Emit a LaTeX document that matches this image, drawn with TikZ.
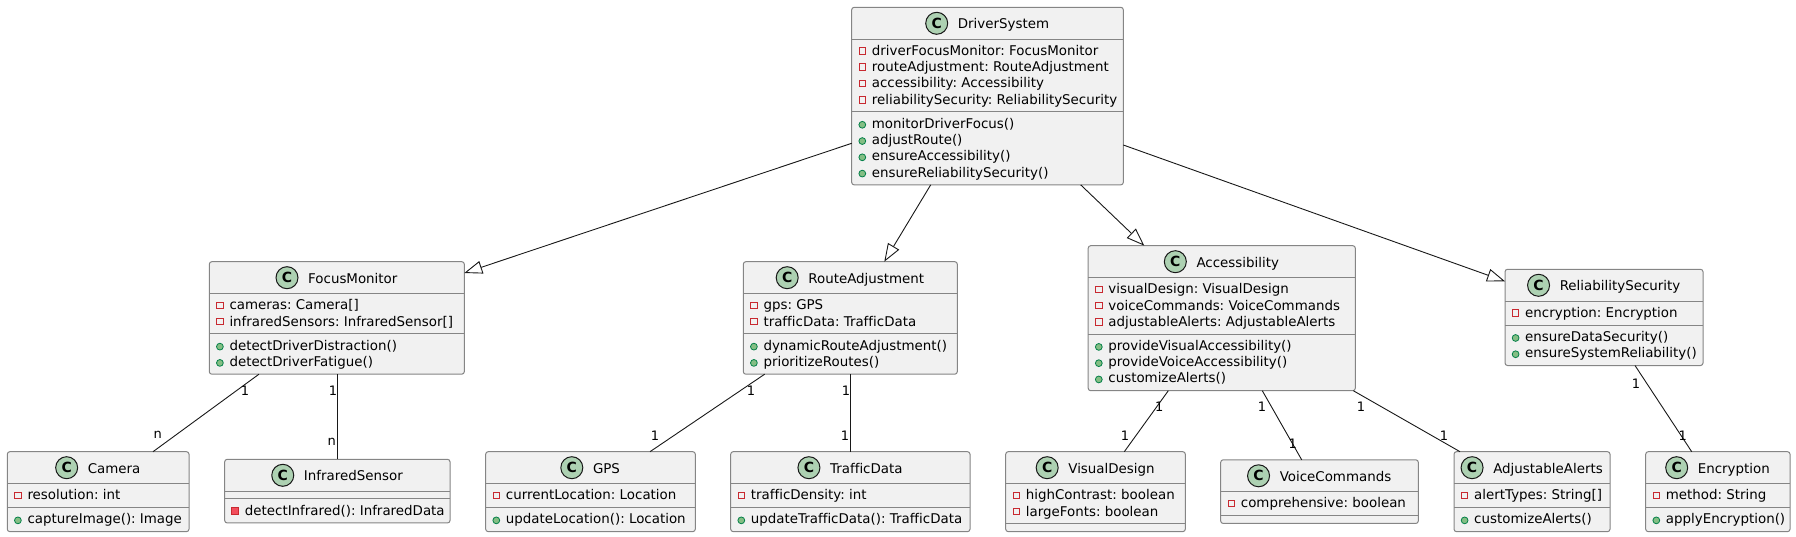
\documentclass[tikz,border=0pt]{standalone}
\usepackage{fontspec}
\setmainfont{DejaVu Sans}[Ligatures=NoCommon]
\usetikzlibrary{calc,arrows.meta}
\definecolor{boxfill}{HTML}{F1F1F1}
\definecolor{bordc}{HTML}{858585}
\definecolor{linec}{HTML}{181818}
\definecolor{privc}{HTML}{C82930}
\definecolor{privfill}{HTML}{F24D5C}
\definecolor{pubc}{HTML}{038048}
\definecolor{pubfill}{HTML}{84BE84}
\definecolor{iconfill}{HTML}{ADD1B2}
\frenchspacing
\tikzset{
  clsbox/.style={draw=bordc, fill=boxfill, line width=1pt, rounded corners=2.5pt, inner sep=0pt, outer sep=0pt},
  sepl/.style={draw=bordc, line width=1pt},
  clsname/.style={inner sep=0pt, font=\fontsize{13.4}{16}\selectfont},
  member/.style={inner sep=0pt, font=\fontsize{13.4}{16}\selectfont},
  pf/.style={rectangle, draw=privc, fill=none, minimum size=6.5pt, inner sep=0pt, line width=0.9pt},
  qm/.style={rectangle, draw=privc, fill=privfill, minimum size=7pt, inner sep=0pt, line width=0.8pt},
  pm/.style={circle, draw=pubc, fill=pubfill, minimum size=6.8pt, inner sep=0pt, line width=0.8pt, yshift=-1pt},
  cicon/.style={circle, draw=linec, fill=iconfill, minimum size=22pt, inner sep=0pt, line width=1pt, font=\bfseries\fontsize{14}{14}\selectfont},
  ext/.style={draw=linec, line width=0.9pt, -{Triangle[length=18pt,width=13pt,fill=white]}},
  assoc/.style={draw=linec, line width=0.9pt},
  mult/.style={inner sep=0pt, font=\fontsize{13}{13}\selectfont}
}
\newcommand\umlclass[9]{%
  \pgfmathsetmacro\clsA{#4+31.8}%
  \pgfmathsetmacro\clsB{\clsA+7.8+16.27*#6}%
  \pgfmathsetmacro\clsBot{\clsB+7.8+16.27*#7}%
  \pgfmathsetmacro\clsW{#3-#2}%
  \pgfmathsetmacro\clsH{\clsBot-#4}%
  \pgfmathsetmacro\clsCx{(#2+#3)/2+16}%
  \node[clsbox, minimum width=\clsW pt, minimum height=\clsH pt, anchor=north west] (#1) at (#2,#4) {};
  \draw[sepl] (#2,\clsA) -- (#3,\clsA);
  \draw[sepl] (#2,\clsB) -- (#3,\clsB);
  \node[clsname, anchor=base] (#1-name) at (\clsCx,#4+21.4) {#5};
  \node[cicon] (#1-icon) at ($(#1-name.base west)+(-21,-5.4)$) {C};
  \ifnum#6>0
  \foreach[count=\mi] \mkind/\mtxt in {#8}{%
    \pgfmathsetmacro\clsY{\clsA+16.3+16.27*(\mi-1)}%
    \node[member, anchor=base west] (#1-a\mi) at (#2+20,\clsY) {\mtxt};
    \node[\mkind] (#1-ai\mi) at (#2+10.6,\clsY-4.5) {};
  }%
  \fi
  \ifnum#7>0
  \foreach[count=\mi] \mkind/\mtxt in {#9}{%
    \pgfmathsetmacro\clsY{\clsB+16.3+16.27*(\mi-1)}%
    \node[member, anchor=base west] (#1-m\mi) at (#2+20,\clsY) {\mtxt};
    \node[\mkind] (#1-mi\mi) at (#2+10.6,\clsY-4.5) {};
  }%
  \fi
}
\begin{document}
\begin{tikzpicture}[x=1pt, y=-1pt]
\useasboundingbox (0,0) rectangle (1796,537);

\umlclass{ds}{851.7}{1123.3}{7.3}{DriverSystem}{4}{4}{pf/{driverFocusMonitor: FocusMonitor}, pf/{routeAdjustment: RouteAdjustment}, pf/{accessibility: Accessibility}, pf/{reliabilitySecurity: ReliabilitySecurity}}{pm/{monitorDriverFocus()}, pm/{adjustRoute()}, pm/{ensureAccessibility()}, pm/{ensureReliabilitySecurity()}}
\umlclass{fm}{209.3}{464.3}{261.7}{FocusMonitor}{2}{2}{pf/{cameras: Camera[]}, pf/{infraredSensors: InfraredSensor[]}}{pm/{detectDriverDistraction()}, pm/{detectDriverFatigue()}}
\umlclass{ra}{743.3}{957.3}{261.7}{RouteAdjustment}{2}{2}{pf/{gps: GPS}, pf/{trafficData: TrafficData}}{pm/{dynamicRouteAdjustment()}, pm/{prioritizeRoutes()}}
\umlclass{ac}{1088.2}{1355.3}{245.7}{Accessibility}{3}{3}{pf/{visualDesign: VisualDesign}, pf/{voiceCommands: VoiceCommands}, pf/{adjustableAlerts: AdjustableAlerts}}{pm/{provideVisualAccessibility()}, pm/{provideVoiceAccessibility()}, pm/{customizeAlerts()}}
\umlclass{rs}{1505}{1703}{269.3}{ReliabilitySecurity}{1}{2}{pf/{encryption: Encryption}}{pm/{ensureDataSecurity()}, pm/{ensureSystemReliability()}}
\umlclass{cam}{7.3}{189}{451.7}{Camera}{1}{1}{pf/{resolution: int}}{pm/{captureImage(): Image}}
\umlclass{ir}{224.7}{450}{459.3}{InfraredSensor}{0}{1}{}{qm/{detectInfrared(): InfraredData}}
\umlclass{gps}{485.7}{695.3}{451.7}{GPS}{1}{1}{pf/{currentLocation: Location}}{pm/{updateLocation(): Location}}
\umlclass{td}{730.7}{970}{451.7}{TrafficData}{1}{1}{pf/{trafficDensity: int}}{pm/{updateTrafficData(): TrafficData}}
\umlclass{vd}{1005.7}{1185.3}{451.7}{VisualDesign}{2}{0}{pf/{highContrast: boolean}, pf/{largeFonts: boolean}}{}
\umlclass{vc}{1220.7}{1418.3}{459.8}{VoiceCommands}{1}{0}{pf/{comprehensive: boolean}}{}
\umlclass{aa}{1454}{1610}{451.7}{AdjustableAlerts}{1}{1}{pf/{alertTypes: String[]}}{pm/{customizeAlerts()}}
\umlclass{enc}{1645.7}{1790}{451.7}{Encryption}{1}{1}{pf/{method: String}}{pm/{applyEncryption()}}

% generalizations
\draw[ext] ($(ds.north west)+(0,136)$) -- ($(fm.north east)+(0,11.3)$);
\draw[ext] ($(ds.south west)+(79,0)$) -- ($(ra.north west)+(141,0)$);
\draw[ext] ($(ds.south west)+(229,0)$) -- ($(ac.north west)+(56.1,0)$);
\draw[ext] ($(ds.north east)+(0,137.7)$) -- ($(rs.north west)+(0,12)$);

% associations
\draw[assoc] ($(fm.south west)+(49.7,0)$) -- ($(cam.north west)+(145.7,0)$);
\draw[assoc] ($(fm.south west)+(128,0)$) -- ($(ir.north west)+(112.6,0)$);
\draw[assoc] ($(ra.south west)+(21.4,0)$) -- ($(gps.north west)+(164.3,0)$);
\draw[assoc] ($(ra.south west)+(107,0)$) -- ($(td.north west)+(119.6,0)$);
\draw[assoc] ($(ac.south west)+(80.1,0)$) -- ($(vd.north west)+(118.6,0)$);
\draw[assoc] ($(ac.south west)+(174.1,0)$) -- ($(vc.north west)+(81,0)$);
\draw[assoc] ($(ac.south west)+(265.1,0)$) -- ($(aa.north west)+(6,0)$);
\draw[assoc] ($(rs.south west)+(130,0)$) -- ($(enc.north west)+(46,0)$);

% multiplicities
\node[mult] (m1) at (245,391) {1};
\node[mult] (m2) at (157.7,434.7) {n};
\node[mult] (m3) at (333,391) {1};
\node[mult] (m4) at (331.7,442.3) {n};
\node[mult] (m5) at (751,391) {1};
\node[mult] (m6) at (655,435.7) {1};
\node[mult] (m7) at (846,391) {1};
\node[mult] (m8) at (845,435.7) {1};
\node[mult] (m9) at (1159.3,406.7) {1};
\node[mult] (m10) at (1125,436) {1};
\node[mult] (m11) at (1262,406.7) {1};
\node[mult] (m12) at (1292.7,443.3) {1};
\node[mult] (m13) at (1361,406.7) {1};
\node[mult] (m14) at (1444,436) {1};
\node[mult] (m15) at (1636,383.3) {1};
\node[mult] (m16) at (1682.7,435.7) {1};
\end{tikzpicture}
\end{document}
